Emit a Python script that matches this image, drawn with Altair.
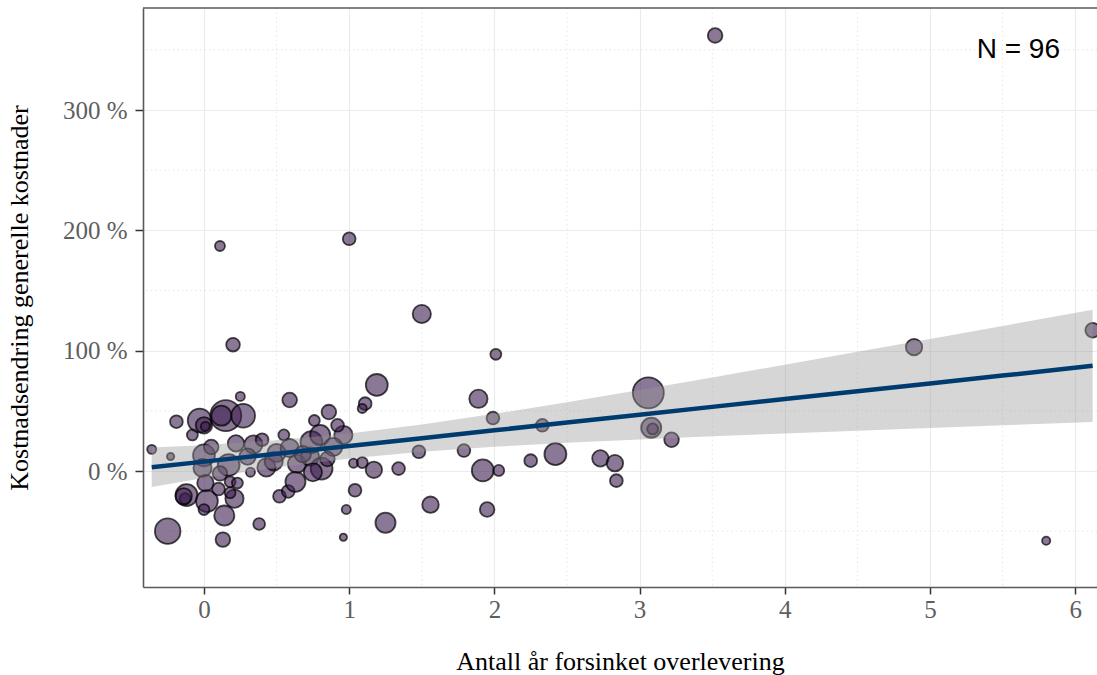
import altair as alt
import pandas as pd

# Years of delayed delivery per project
forsinkelse = [
    -0.36, -0.23, -0.19, -0.03, 0.00, 0.01, 0.15, 0.12, 0.27, 0.20,
    0.25, 0.11, 0.00, -0.01, 0.17, 0.11, 0.32, 0.22, 0.34, -0.12,
    -0.13, -0.14, 0.01, 0.02, 0.00, 0.14, 0.13, -0.25, 0.38, 0.18,
    0.23, 0.21, 0.18, 0.43, 0.50, 0.48, 0.59, 0.59, 0.64, 0.73,
    0.74, 0.80, 0.76, 0.86, 0.96, 0.89, 0.81, 0.75, 0.52, 0.58,
    0.63, 1.03, 1.09, 1.17, 1.34, 1.04, 0.98, 0.96, 1.25, 1.19,
    1.11, 1.09, 1.00, 1.50, 2.01, 1.89, 1.99, 1.48, 1.79, 1.92,
    2.03, 2.25, 2.33, 2.42, 1.56, 1.95, 3.06, 3.08, 3.09, 3.22,
    2.73, 2.83, 2.84, 3.52, 4.89, 6.12, 5.80, 0.30, 0.05, 0.68,
    0.85, -0.08, 0.40, 0.55, 0.10, 0.92,
]

# Change in general costs, percent
kostnadsendring = [
    18, 12, 41, 42, 38, 37, 46, 46, 46, 105,
    62, 187, 13, 2.5, 5, -2, -1, 23, 22, -20,
    -23, -21, -10, -25, -32, -37, -57, -50, -44, -9,
    -10, -23, -18, 3, 15, 8, 19, 59, 6, 12,
    24, 30, 42, 49, 30, 20, 2, -1, -21, -17,
    -9, 6.5, 7, 1, 2, -16, -32, -55, -43, 71.5,
    56, 52, 193, 130.5, 97, 60, 44, 16, 17, 0.5,
    0.5, 8.6, 38, 14, -28, -32, 65, 36, 35, 26,
    10.5, 6.5, -8, 362, 103, 117, -58, 12, 20, 14,
    10, 30, 26, 30, -15, 38,
]

# Project size (bubble area)
prosjektstorrelse = [
    25, 16, 49, 169, 81, 25, 289, 121, 169, 56,
    25, 30, 144, 100, 144, 64, 25, 81, 100, 144,
    36, 81, 81, 144, 36, 121, 64, 196, 42, 36,
    36, 100, 36, 100, 100, 100, 100, 64, 100, 100,
    144, 121, 36, 64, 100, 100, 144, 100, 49, 49,
    121, 25, 36, 81, 49, 49, 25, 16, 121, 144,
    49, 25, 49, 100, 36, 100, 49, 49, 49, 144,
    36, 49, 49, 144, 81, 64, 289, 121, 36, 64,
    81, 81, 49, 64, 81, 64, 20, 81, 64, 81,
    64, 36, 49, 36, 49, 49,
]

# Linear fit with 95 % confidence band
fit_x = [-0.36, 0.0, 0.5, 1.0, 1.5, 2.0, 2.5, 3.0, 3.5, 4.0, 4.5, 5.0, 5.5, 6.12]
fit_mid = [3.1, 7.8, 14.3, 20.8, 27.3, 33.8, 40.3, 46.8, 53.3, 59.8, 66.3, 72.8, 79.3, 87.4]
fit_lo = [-13.3, -5.9, 3.0, 10.4, 16.0, 20.1, 23.4, 26.2, 28.8, 31.2, 33.5, 35.8, 38.0, 40.8]
fit_hi = [19.5, 21.5, 25.6, 31.2, 38.6, 47.5, 57.2, 67.4, 77.8, 88.4, 99.1, 109.8, 120.6, 134.0]

# Axis ticks and dotted minor grid
x_ticks = [0, 1, 2, 3, 4, 5, 6]
y_ticks = [0, 100, 200, 300]
minor_x = [0.5, 1.5, 2.5, 3.5, 4.5, 5.5]
minor_y = [-50, 50, 150, 250, 350]

pts = pd.DataFrame({"x": forsinkelse, "y": kostnadsendring, "s": prosjektstorrelse})
fit = pd.DataFrame({"x": fit_x, "y": fit_mid, "lo": fit_lo, "hi": fit_hi})
n_label = pd.DataFrame({"x": [5.895], "y": [350], "t": [f"N = {len(pts)}"]})

W, H = 954, 579
xsc = alt.Scale(domain=[-0.42, 6.15], nice=False, zero=False)
ysc = alt.Scale(domain=[-96.4, 384.8], nice=False, zero=False)

serif = "Liberation Serif"
xax = alt.Axis(
    values=x_ticks, format="d", title="Antall år forsinket overlevering",
    labelFont=serif, labelFontSize=25, labelColor="#5e5e5e", labelPadding=3,
    titleFont=serif, titleFontSize=26, titleColor="black", titleFontWeight="normal",
    titlePadding=26, tickColor="#333333", tickSize=7, tickWidth=1.5,
    domainColor="#5a5a5a", domainWidth=1.6, gridColor="#ebebeb", gridWidth=1.1,
    labelFlush=False,
)
yax = alt.Axis(
    values=y_ticks, labelExpr="datum.value + ' %'", title="Kostnadsendring generelle kostnader",
    labelFont=serif, labelFontSize=25, labelColor="#5e5e5e", labelPadding=8,
    titleFont=serif, titleFontSize=26, titleColor="black", titleFontWeight="normal",
    titlePadding=30, tickColor="#333333", tickSize=8, tickWidth=1.5,
    domainColor="#5a5a5a", domainWidth=1.6, gridColor="#ebebeb", gridWidth=1.1,
    labelFlush=False,
)

X = lambda f="x": alt.X(f"{f}:Q", scale=xsc, axis=xax)
Y = lambda f="y": alt.Y(f"{f}:Q", scale=ysc, axis=yax)

grid_x = alt.Chart(pd.DataFrame({"x": minor_x})).mark_rule(
    color="#e6e6e6", strokeWidth=1, strokeDash=[1.5, 3]
).encode(x=X())

grid_y = alt.Chart(pd.DataFrame({"y": minor_y})).mark_rule(
    color="#e6e6e6", strokeWidth=1, strokeDash=[1.5, 3]
).encode(y=Y())

points = alt.Chart(pts).mark_circle(
    fill="#3e1e50", fillOpacity=0.6, stroke="black", strokeOpacity=0.7,
    strokeWidth=1.8, opacity=1, clip=True,
).encode(
    x=X(), y=Y(),
    size=alt.Size("s:Q", scale=alt.Scale(domain=[0, 300], range=[0, 1000]), legend=None),
)

band = alt.Chart(fit).mark_area(color="#999999", opacity=0.4, clip=True).encode(
    x=X(), y=Y("lo"), y2="hi:Q"
)

line = alt.Chart(fit).mark_line(color="#003b6f", strokeWidth=4.5, clip=True).encode(
    x=X(), y=Y()
)

label = alt.Chart(n_label).mark_text(
    font="Liberation Sans", fontSize=28, color="black", align="right", baseline="middle"
).encode(x=X(), y=Y(), text="t:N")

top_border = alt.Chart(pd.DataFrame({"a": [0]})).mark_rule(
    color="#5a5a5a", strokeWidth=1.6
).encode(x=alt.value(0), x2=alt.value(W), y=alt.value(0))

chart = alt.layer(grid_x, grid_y, points, band, line, label, top_border).properties(
    width=W, height=H,
    autosize=alt.AutoSizeParams(type="none"),
    padding={"left": 143, "top": 8, "right": 0, "bottom": 88},
    background="white",
).configure_view(stroke=None)

chart.save("out.html", embed_options={"renderer": "svg", "actions": False})
